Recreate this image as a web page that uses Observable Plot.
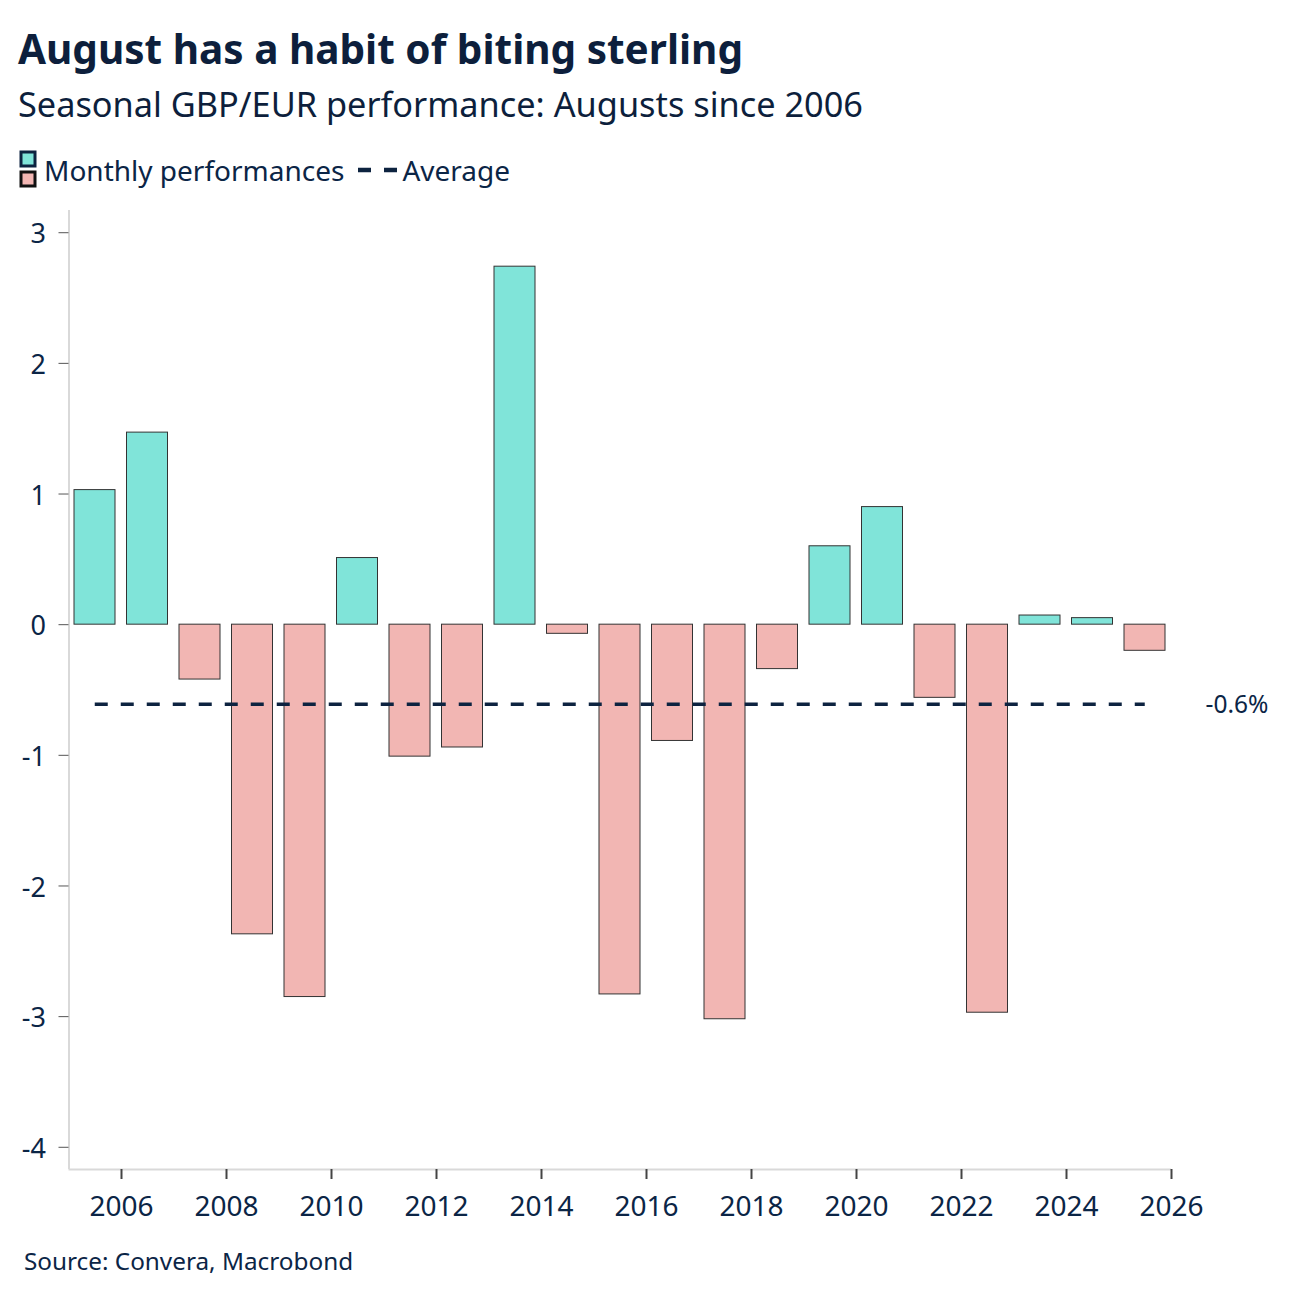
<!DOCTYPE html>
<html>
<head>
<meta charset="utf-8">
<script src="https://cdn.jsdelivr.net/npm/d3@7"></script>
<script src="https://cdn.jsdelivr.net/npm/@observablehq/plot@0.6"></script>
<style>
  html, body { margin: 0; padding: 0; background: #ffffff; }
  body { width: 1299px; height: 1302px; position: relative; font-family: "Noto Sans", sans-serif; color: #0b2546; }
  .title { position: absolute; left: 18px; top: 24px; font-size: 40.5px; line-height: 50px; font-weight: 700; color: #0d1f3c; white-space: nowrap; }
  .subtitle { position: absolute; left: 18px; top: 82px; font-size: 34.3px; line-height: 44px; color: #0d1f3c; white-space: nowrap; }
  .legend { position: absolute; left: 19px; top: 150px; height: 40px; display: flex; align-items: center; font-size: 28px; white-space: nowrap; }
  .legend svg { display: block; }
  .chart { position: absolute; left: 0; top: 195px; }
  .caption { position: absolute; left: 24px; top: 1246px; font-size: 24.3px; line-height: 30px; color: #0b2546; white-space: nowrap; }
</style>
</head>
<body>
<div class="title">August has a habit of biting sterling</div>
<div class="subtitle">Seasonal GBP/EUR performance: Augusts since 2006</div>
<div class="legend">
  <svg width="20" height="40" viewBox="0 0 20 40">
    <rect x="2" y="2" width="14" height="14" fill="#80e4d9" stroke="#0d2340" stroke-width="3"></rect>
    <rect x="2" y="22" width="14" height="14" fill="#f2b6b3" stroke="#111111" stroke-width="3"></rect>
  </svg>
  <span style="margin-left:5px">Monthly performances</span>
  <svg width="58" height="40" viewBox="0 0 58 40" style="margin-left:8px">
    <line x1="6" y1="20" x2="46" y2="20" stroke="#0d2340" stroke-width="4.5" stroke-dasharray="13,13"></line>
  </svg>
  <span style="margin-left:-8px">Average</span>
</div>
<div class="chart" id="chart"></div>
<div class="caption">Source: Convera, Macrobond</div>
<script>
// August GBP/EUR performance, % change over the month
const years = [2005, 2006, 2007, 2008, 2009, 2010, 2011, 2012, 2013, 2014, 2015,
               2016, 2017, 2018, 2019, 2020, 2021, 2022, 2023, 2024, 2025];
const values = [1.03, 1.47, -0.42, -2.37, -2.85, 0.51, -1.01, -0.94, 2.74, -0.07, -2.83,
                -0.89, -3.02, -0.34, 0.60, 0.90, -0.56, -2.97, 0.07, 0.05, -0.20];
// long-run August average
const average = -0.61;

const yTicks = [-4, -3, -2, -1, 0, 1, 2, 3];
const xTicks = [2006, 2008, 2010, 2012, 2014, 2016, 2018, 2020, 2022, 2024, 2026];
const xDomain = [2005, 2026];
const yDomain = [-4.17, 3.17];

const upColor = "#80e4d9";
const downColor = "#f2b6b3";
const ink = "#0b2546";

const rows = years.map((year, i) => ({year, value: values[i]}));
const firstYear = d3.min(years), lastYear = d3.max(years);

const chart = Plot.plot({
  width: 1299,
  height: 1034,
  marginTop: 15,
  marginBottom: 60,
  marginLeft: 68.5,
  marginRight: 128,
  x: {domain: xDomain},
  y: {domain: yDomain},
  style: {fontFamily: "'Noto Sans', sans-serif", fontSize: "27px", color: ink, background: "#ffffff", overflow: "visible"},
  marks: [
    // axis lines
    Plot.ruleX([xDomain[0]], {stroke: "#d9d9d9", strokeWidth: 2}),
    Plot.ruleY([yDomain[0]], {stroke: "#d9d9d9", strokeWidth: 2}),
    // one bar per August, spanning its year slot
    Plot.rect(rows, {
      x1: "year",
      x2: d => d.year + 1,
      y1: 0,
      y2: "value",
      insetLeft: 5.5,
      insetRight: 6,
      fill: d => d.value >= 0 ? upColor : downColor,
      stroke: "#333333",
      strokeWidth: 1
    }),
    // average line across the bar centres
    Plot.ruleY([average], {
      x1: firstYear + 0.5,
      x2: lastYear + 0.5,
      stroke: "#0d2340",
      strokeWidth: 3.5,
      strokeDasharray: "13,13"
    }),
    Plot.text([average], {
      y: d => d,
      frameAnchor: "right",
      dx: 34,
      dy: 1,
      textAnchor: "start",
      text: d => `${d.toFixed(1)}%`,
      fontSize: 24.5,
      fill: ink
    }),
    // y tick marks
    Plot.axisY({
      ticks: yTicks,
      tickFormat: () => "",
      tickSize: 10,
      stroke: "#555555",
      strokeWidth: 1,
      label: null
    }),
    // y tick labels, set a touch lower than their ticks
    Plot.axisY({
      ticks: yTicks,
      tickFormat: d => String(d),
      tickSize: 0,
      tickPadding: 23,
      fontSize: 27,
      dy: 2,
      label: null
    }),
    Plot.axisX({
      ticks: xTicks,
      tickFormat: d => String(d),
      tickSize: 10,
      tickPadding: 17,
      stroke: "#444444",
      strokeWidth: 2,
      fontSize: 28,
      label: null
    })
  ]
});
document.getElementById("chart").appendChild(chart);
</script>
</body>
</html>
